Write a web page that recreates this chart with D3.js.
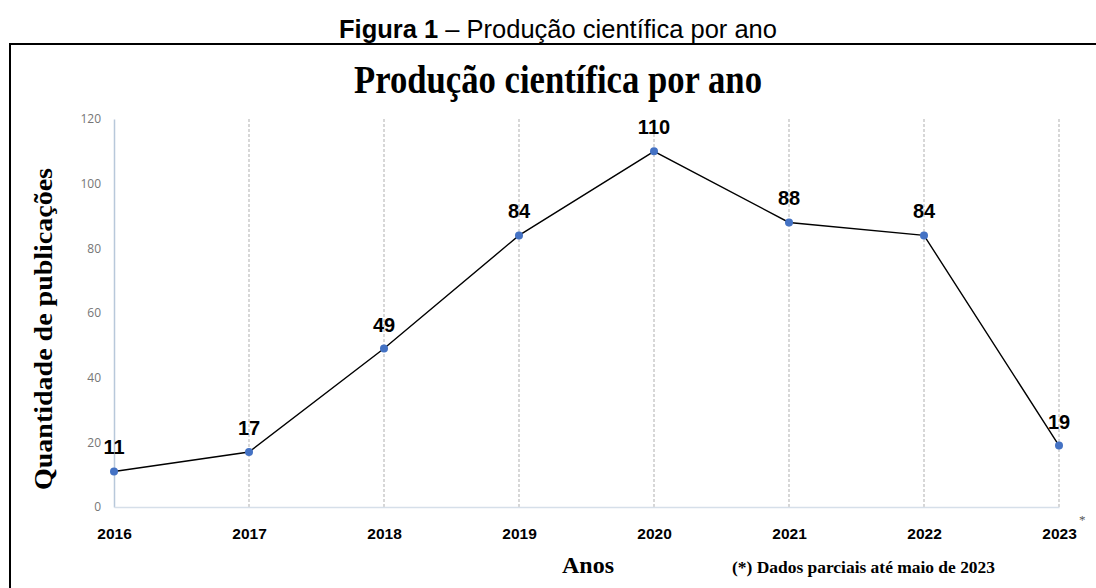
<!DOCTYPE html>
<html>
<head>
<meta charset="utf-8">
<script src="https://cdn.jsdelivr.net/npm/d3@7"></script>
<style>
  body { margin: 0; background: #fff; }
  svg { display: block; }
</style>
</head>
<body>
<svg width="1096" height="588"></svg>
<script>
const years = ["2016", "2017", "2018", "2019", "2020", "2021", "2022", "2023"];
const counts = [11, 17, 49, 84, 110, 88, 84, 19];
const yTicks = [0, 20, 40, 60, 80, 100, 120];

const svg = d3.select("svg");
const serif = "'Liberation Serif', 'Times New Roman', serif";
const sans = "'Liberation Sans', Arial, sans-serif";

// caption above the box
const cap = svg.append("text")
  .attr("x", 558).attr("y", 38)
  .attr("text-anchor", "middle")
  .attr("font-family", sans).attr("font-size", 25.5);
cap.append("tspan").attr("font-weight", "bold").text("Figura 1");
cap.append("tspan").text(" – Produção científica por ano");

// frame
svg.append("path")
  .attr("d", "M10,588 L10,44 L1096,44")
  .attr("fill", "none").attr("stroke", "#000").attr("stroke-width", 2);

// chart title
svg.append("text")
  .attr("x", 558).attr("y", 93)
  .attr("text-anchor", "middle")
  .attr("font-family", serif).attr("font-weight", "bold").attr("font-size", 39)
  .attr("textLength", 408).attr("lengthAdjust", "spacingAndGlyphs")
  .text("Produção científica por ano");

const x = d3.scalePoint().domain(years).range([114, 1059]);
const y = d3.scaleLinear().domain([0, 120]).range([507, 119]);

// vertical dashed gridlines
svg.append("g")
  .selectAll("line")
  .data(years.slice(1))
  .join("line")
  .attr("x1", d => x(d)).attr("x2", d => x(d))
  .attr("y1", y(120)).attr("y2", y(0))
  .attr("stroke", "#bdbdbd").attr("stroke-width", 1.2)
  .attr("stroke-dasharray", "3,2");

// axes
const yAxis = svg.append("g")
  .attr("transform", `translate(${x(years[0])},0)`)
  .call(d3.axisLeft(y).tickValues(yTicks).tickSize(0).tickPadding(13));
yAxis.select(".domain").attr("stroke", "#b8c8da").attr("stroke-width", 1.5);
yAxis.selectAll("text")
  .attr("font-family", "'Open Sans', sans-serif").attr("font-size", 12)
  .attr("fill", "#767676");

const xAxis = svg.append("g")
  .attr("transform", `translate(0,${y(0)})`)
  .call(d3.axisBottom(x).tickSize(0).tickPadding(21));
xAxis.select(".domain").attr("stroke", "#d6dfe9").attr("stroke-width", 1.5);
xAxis.selectAll("text")
  .attr("font-family", sans).attr("font-weight", "bold").attr("font-size", 15.5)
  .attr("fill", "#000");

// asterisk on the partial year
svg.append("text")
  .attr("x", x("2023") + 20).attr("y", 524)
  .attr("font-family", serif).attr("font-size", 13).attr("fill", "#555")
  .text("*");

// line and points
const pts = years.map((d, i) => [x(d), y(counts[i])]);
svg.append("path")
  .attr("d", d3.line()(pts))
  .attr("fill", "none").attr("stroke", "#000").attr("stroke-width", 1.4);

svg.append("g")
  .selectAll("circle")
  .data(pts)
  .join("circle")
  .attr("cx", d => d[0]).attr("cy", d => d[1])
  .attr("r", 4).attr("fill", "#4472c4");

svg.append("g")
  .selectAll("text")
  .data(counts)
  .join("text")
  .attr("x", (d, i) => x(years[i]))
  .attr("y", d => y(d) - 17)
  .attr("text-anchor", "middle")
  .attr("font-family", sans).attr("font-weight", "bold").attr("font-size", 20)
  .text(d => d);

// axis titles
svg.append("text")
  .attr("transform", "translate(52,329) rotate(-90)")
  .attr("text-anchor", "middle")
  .attr("font-family", serif).attr("font-weight", "bold").attr("font-size", 26)
  .attr("textLength", 322).attr("lengthAdjust", "spacingAndGlyphs")
  .text("Quantidade de publicações");

svg.append("text")
  .attr("x", 588).attr("y", 573)
  .attr("text-anchor", "middle")
  .attr("font-family", serif).attr("font-weight", "bold").attr("font-size", 23)
  .attr("textLength", 52).attr("lengthAdjust", "spacingAndGlyphs")
  .text("Anos");

svg.append("text")
  .attr("x", 732).attr("y", 573)
  .attr("font-family", serif).attr("font-weight", "bold").attr("font-size", 17)
  .attr("textLength", 263).attr("lengthAdjust", "spacingAndGlyphs")
  .text("(*) Dados parciais até maio de 2023");
</script>
</body>
</html>
